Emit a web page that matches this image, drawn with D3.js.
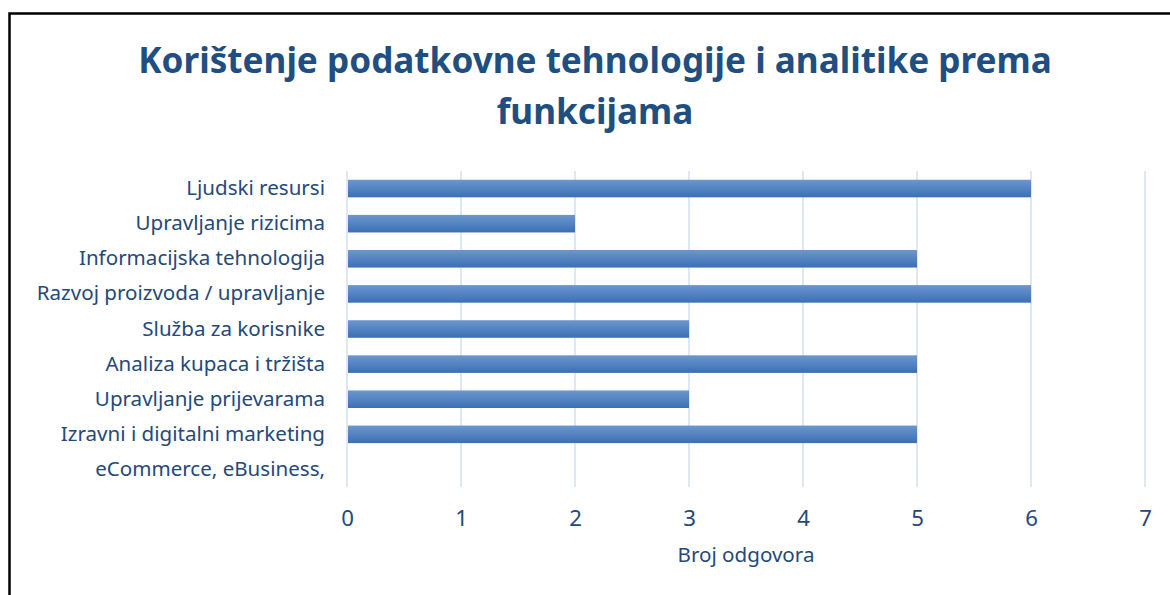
<!DOCTYPE html>
<html>
<head>
<meta charset="utf-8">
<script src="https://cdn.jsdelivr.net/npm/d3@7"></script>
<style>
  html, body { margin: 0; padding: 0; background: #fff; }
  svg { display: block; }
</style>
</head>
<body>
<svg id="chart" width="1170" height="595"></svg>
<script>
// ---- data ----
const titleLines = ["Korištenje podatkovne tehnologije i analitike prema", "funkcijama"];
const categories = [
  "Ljudski resursi",
  "Upravljanje rizicima",
  "Informacijska tehnologija",
  "Razvoj proizvoda / upravljanje",
  "Služba za korisnike",
  "Analiza kupaca i tržišta",
  "Upravljanje prijevarama",
  "Izravni i digitalni marketing",
  "eCommerce, eBusiness,"
];
const values = [6, 2, 5, 6, 3, 5, 3, 5, 0];
const xTicks = [0, 1, 2, 3, 4, 5, 6, 7];
const xAxisTitle = "Broj odgovora";

// ---- layout ----
const W = 1170, H = 595;
const textColor = "#24497a";
const fontFam = "'Segoe UI', 'Noto Sans', 'Open Sans', sans-serif";
const svg = d3.select("#chart");

const defs = svg.append("defs");
const grad = defs.append("linearGradient")
  .attr("id", "barGrad").attr("x1", 0).attr("y1", 0).attr("x2", 0).attr("y2", 1);
grad.append("stop").attr("offset", "0%").attr("stop-color", "#6c97ce");
grad.append("stop").attr("offset", "100%").attr("stop-color", "#3b6fb4");

// border
svg.append("rect")
  .attr("x", 9.5).attr("y", 13.5).attr("width", W + 20).attr("height", H + 20)
  .attr("fill", "none").attr("stroke", "#000").attr("stroke-width", 2.5);

function fitWidth(sel, target, startSize) {
  sel.attr("font-size", startSize);
  const w = sel.node().getComputedTextLength();
  sel.attr("font-size", startSize * target / w);
}

const x = d3.scaleLinear().domain([0, 7]).range([347, 1145]);
const y = d3.scaleBand().domain(categories).range([171, 487]).paddingInner(0.5).paddingOuter(0.25);

// title
const t1 = svg.append("text").attr("x", 595).attr("y", 73)
  .attr("text-anchor", "middle").attr("font-family", fontFam).attr("font-weight", "bold")
  .attr("fill", "#1f4e80").text(titleLines[0]);
fitWidth(t1, 914, 36);
const tSize = +t1.attr("font-size");
svg.append("text").attr("x", 595).attr("y", 124)
  .attr("text-anchor", "middle").attr("font-family", fontFam).attr("font-weight", "bold")
  .attr("font-size", tSize).attr("fill", "#1f4e80").text(titleLines[1]);

// gridlines
svg.append("g").selectAll("line").data(xTicks).join("line")
  .attr("x1", d => x(d)).attr("x2", d => x(d))
  .attr("y1", 171).attr("y2", 487)
  .attr("stroke", "#d6e2f3").attr("stroke-width", 1.6);

// bars
svg.append("g").selectAll("rect").data(categories).join("rect")
  .attr("x", x(0) + 1)
  .attr("y", d => y(d))
  .attr("width", (d, i) => Math.max(0, x(values[i]) - x(0) - 1))
  .attr("height", y.bandwidth())
  .attr("fill", "url(#barGrad)");

// category labels: size measured on one label
const probe = svg.append("text").attr("font-family", fontFam).text("eCommerce, eBusiness,");
fitWidth(probe, 230, 18);
const lblSize = +probe.attr("font-size");
probe.remove();

svg.append("g").selectAll("text").data(categories).join("text")
  .attr("x", 325)
  .attr("y", d => y(d) + y.bandwidth() / 2 + 6.5)
  .attr("text-anchor", "end")
  .attr("font-family", fontFam).attr("font-size", lblSize)
  .attr("fill", textColor).text(d => d);

// x axis tick labels
const xAxis = d3.axisBottom(x).tickValues(xTicks).tickSize(0).tickPadding(0).tickFormat(d3.format("d"));
const gx = svg.append("g").attr("transform", "translate(0,526)").call(xAxis);
gx.select(".domain").remove();
gx.selectAll("text").attr("font-family", fontFam).attr("font-size", lblSize * 1.08)
  .attr("fill", textColor).attr("dy", 0);

// axis title
const at = svg.append("text").attr("x", 746).attr("y", 562)
  .attr("text-anchor", "middle").attr("font-family", fontFam)
  .attr("fill", textColor).text(xAxisTitle);
fitWidth(at, 137, 18);
</script>
</body>
</html>
